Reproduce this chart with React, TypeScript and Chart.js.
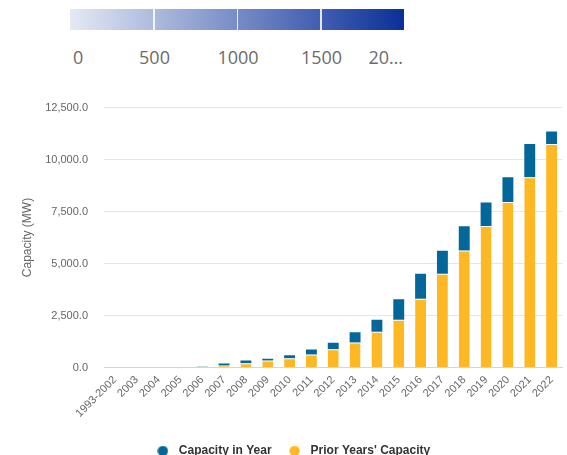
import React, { useEffect, useRef } from "react";
import { Chart, registerables } from "chart.js";

Chart.register(...registerables);

// Installation periods on the category axis
const categories = [
  "1993-2002", "2003", "2004", "2005", "2006", "2007", "2008", "2009", "2010", "2011",
  "2012", "2013", "2014", "2015", "2016", "2017", "2018", "2019", "2020", "2021", "2022",
];

// Capacity added in each period (MW)
const capacityInYear = [
  0, 0, 0, 0, 8, 90, 136, 78, 153, 245,
  306, 499, 577, 993, 1204, 1106, 1170, 1120, 1185, 1605, 591,
];

// Cumulative capacity installed before each period (MW)
const priorYearsCapacity = [
  0, 0, 0, 0, 40, 100, 200, 340, 440, 620,
  880, 1200, 1715, 2292, 3300, 4504, 5625, 6810, 7965, 9150, 10755,
];

// Value axis
const yMax = 12500;
const yStep = 2500;

// Colour scale shown above the chart
const colorScaleStops = [0, 500, 1000, 1500, 2000];
const colorScaleLabels = ["0", "500", "1000", "1500", "20…"];

const BLUE = "#04679a";
const YELLOW = "#fdb823";
const FONT = '"Liberation Sans", Arial, sans-serif';

function dot(color: string): HTMLCanvasElement {
  const c = document.createElement("canvas");
  c.width = 11;
  c.height = 11;
  const ctx = c.getContext("2d")!;
  ctx.fillStyle = color;
  ctx.beginPath();
  ctx.arc(5.5, 5.5, 5.2, 0, Math.PI * 2);
  ctx.fill();
  return c;
}

function ColorScale() {
  const left = 70;
  const width = 334;
  const span = colorScaleStops[colorScaleStops.length - 1] - colorScaleStops[0];
  const xOf = (v: number) => left + ((v - colorScaleStops[0]) / span) * width;
  return (
    <>
      <div
        style={{
          position: "absolute",
          left,
          top: 9,
          width,
          height: 21,
          background: "linear-gradient(to right, #e4e9f4, #0a3099)",
        }}
      />
      {colorScaleStops.slice(1, -1).map((v) => (
        <div
          key={"sep" + v}
          style={{
            position: "absolute",
            left: xOf(v) - 0.5,
            top: 9,
            width: 1.5,
            height: 21,
            background: "rgba(255,255,255,0.85)",
          }}
        />
      ))}
      {colorScaleLabels.map((t, i) => {
        const x = xOf(colorScaleStops[i]);
        const first = i === 0;
        const last = i === colorScaleLabels.length - 1;
        return (
          <span
            key={"lbl" + i}
            style={{
              position: "absolute",
              left: first ? x + 3 : last ? x - 1 : x + 1,
              top: 48,
              transform: first ? "none" : last ? "translateX(-100%)" : "translateX(-50%)",
              fontFamily: '"Open Sans", sans-serif',
              fontSize: 18,
              lineHeight: "18px",
              color: "#6b6b6b",
              whiteSpace: "nowrap",
            }}
          >
            {t}
          </span>
        );
      })}
    </>
  );
}

export default function App() {
  const canvasRef = useRef<HTMLCanvasElement | null>(null);

  useEffect(() => {
    const canvas = canvasRef.current;
    if (!canvas) return;
    const dots: Record<number, HTMLCanvasElement> = { 0: dot(YELLOW), 1: dot(BLUE) };

    const chart = new Chart(canvas, {
      type: "bar",
      data: {
        labels: categories,
        datasets: [
          {
            label: "Prior Years' Capacity",
            data: priorYearsCapacity,
            backgroundColor: YELLOW,
            borderColor: "rgba(255,255,255,0.7)",
            borderWidth: { top: 1, left: 0, right: 0, bottom: 0 },
            borderSkipped: false,
          },
          {
            label: "Capacity in Year",
            data: capacityInYear,
            backgroundColor: BLUE,
            borderWidth: 0,
          },
        ],
      },
      options: {
        responsive: false,
        animation: false,
        devicePixelRatio: 1,
        datasets: {
          bar: { categoryPercentage: 1, barPercentage: 0.5 },
        },
        layout: { padding: { top: 18, left: 20, right: 4, bottom: 0 } },
        scales: {
          x: {
            stacked: true,
            grid: { display: false, drawTicks: false },
            border: { display: true, color: "#ccd6eb", width: 1 },
            ticks: {
              autoSkip: false,
              maxRotation: 45,
              minRotation: 45,
              padding: 6,
              color: "#666666",
              font: { family: FONT, size: 11 },
            },
            afterFit: (scale) => {
              scale.height += 6;
            },
          },
          y: {
            stacked: true,
            min: 0,
            max: yMax,
            grid: { color: "#e6e6e6", drawTicks: false },
            border: { display: false },
            ticks: {
              stepSize: yStep,
              padding: 16,
              color: "#666666",
              font: { family: FONT, size: 11 },
              callback: (v) =>
                Number(v).toLocaleString("en-US", {
                  minimumFractionDigits: 1,
                  maximumFractionDigits: 1,
                }),
            },
            title: {
              display: true,
              text: "Capacity (MW)",
              color: "#666666",
              padding: 0,
              font: { family: FONT, size: 12 },
            },
            afterFit: (scale) => {
              scale.width = 84;
            },
          },
        },
        plugins: {
          legend: {
            position: "bottom",
            reverse: true,
            labels: {
              usePointStyle: true,
              pointStyleWidth: 20,
              padding: 13,
              color: "#333333",
              font: { family: FONT, size: 12, weight: "bold" },
              generateLabels: (c) =>
                Chart.defaults.plugins.legend.labels
                  .generateLabels(c)
                  .map((item) => ({ ...item, pointStyle: dots[item.datasetIndex ?? 0] })),
            },
          },
          tooltip: { enabled: false },
        },
      },
    });
    return () => chart.destroy();
  }, []);

  return (
    <div
      style={{
        position: "absolute",
        left: 0,
        top: 0,
        width: 567,
        height: 455,
        overflow: "hidden",
        background: "#ffffff",
      }}
    >
      <ColorScale />
      <canvas
        ref={canvasRef}
        width={567}
        height={382}
        style={{ position: "absolute", left: 0, top: 85, width: 567, height: 382 }}
      />
    </div>
  );
}
